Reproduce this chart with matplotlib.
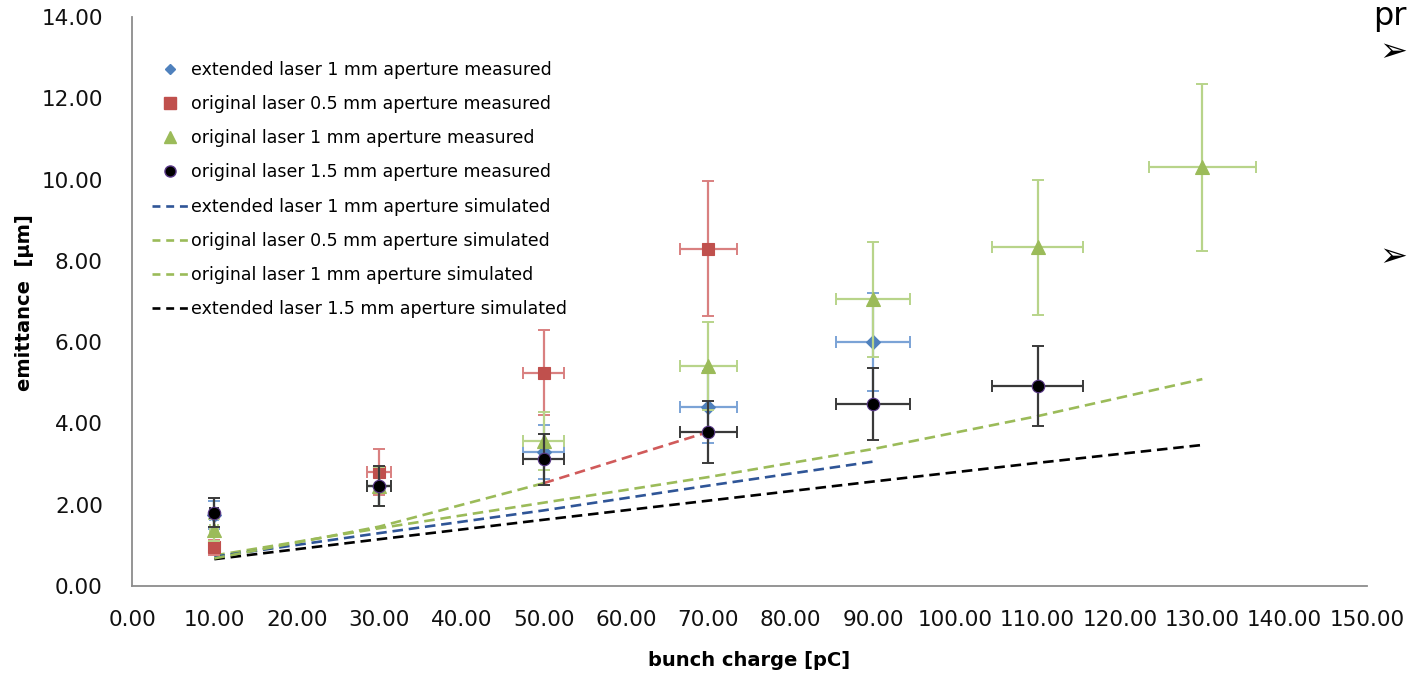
import matplotlib
matplotlib.use("Agg")
import matplotlib.pyplot as plt
from matplotlib.lines import Line2D

plt.rcParams["font.family"] = ["DejaVu Sans"]

# bunch charge [pC] and emittance [um]
charge_ext1 = [10, 30, 50, 70, 90]
emit_ext1 = [1.75, 2.45, 3.30, 4.40, 6.00]

charge_orig05 = [10, 30, 50, 70]
emit_orig05 = [0.95, 2.80, 5.25, 8.30]

charge_orig1 = [10, 30, 50, 70, 90, 110, 130]
emit_orig1 = [1.38, 2.45, 3.57, 5.42, 7.05, 8.33, 10.30]

charge_orig15 = [10, 30, 50, 70, 90, 110]
emit_orig15 = [1.80, 2.46, 3.12, 3.79, 4.48, 4.93]

# simulated curves
sim_ext1_x = [10, 30, 50, 70, 90]
sim_ext1_y = [0.72, 1.30, 1.86, 2.47, 3.06]

sim_orig05_x = [10, 30, 50, 70]
sim_orig05_y = [0.68, 1.46, 2.53, 3.79]

sim_orig1_x = [10, 30, 50, 70, 90, 110, 130]
sim_orig1_y = [0.75, 1.42, 2.05, 2.68, 3.37, 4.18, 5.09]

sim_ext15_x = [10, 30, 50, 70, 90, 110, 130]
sim_ext15_y = [0.66, 1.15, 1.63, 2.10, 2.57, 3.03, 3.47]

# relative uncertainties of the measurements
XERR_REL = 0.05
YERR_REL = 0.20

x_ticks = [0, 10, 20, 30, 40, 50, 60, 70, 80, 90, 100, 110, 120, 130, 140, 150]
y_ticks = [0, 2, 4, 6, 8, 10, 12, 14]

BLUE = "#4F81BD"
RED = "#C0504D"
GREEN = "#9BBB59"
BLACK = "#000000"

W, H = 1409, 674
fig = plt.figure(figsize=(W / 100, H / 100), dpi=100)
ax = fig.add_axes([132 / W, 88 / H, (1367 - 132) / W, (586 - 17) / H])
ax.set_xlim(0, 150)
ax.set_ylim(0, 14)

dash = (4, 2.2)
lw_sim = 1.9
# simulated curves
ax.plot(sim_ext15_x, sim_ext15_y, color=BLACK, lw=lw_sim, dashes=dash, zorder=2)
ax.plot(sim_orig1_x, sim_orig1_y, color=GREEN, lw=lw_sim, dashes=dash, zorder=2)
ax.plot(sim_ext1_x, sim_ext1_y, color="#2F5597", lw=lw_sim, dashes=dash, zorder=2)
ax.plot(sim_orig05_x[:3], sim_orig05_y[:3], color=GREEN, lw=lw_sim, dashes=dash, zorder=2)
ax.plot(sim_orig05_x[2:], sim_orig05_y[2:], color="#D05A5A", lw=lw_sim, dashes=dash, zorder=2)


def measured(xs, ys, marker, ms, face, edge, ecolor, z):
    xerr = [XERR_REL * v for v in xs]
    yerr = [YERR_REL * v for v in ys]
    ax.errorbar(xs, ys, xerr=xerr, yerr=yerr, fmt="none", ecolor=ecolor,
                elinewidth=1.6, capsize=4, capthick=1.4, zorder=z)
    ax.plot(xs, ys, linestyle="none", marker=marker, ms=ms, mfc=face,
            mec=edge, mew=0.8, zorder=z + 0.5)


measured(charge_ext1, emit_ext1, "D", 7, BLUE, BLUE, "#7BA3D6", 3)
measured(charge_orig05, emit_orig05, "s", 8.5, RED, RED, "#D98080", 4)
measured(charge_orig1, emit_orig1, "^", 9.5, GREEN, GREEN, "#B8D48A", 5)
measured(charge_orig15, emit_orig15, "o", 9, BLACK, "#5B3A8A", "#3A3A3A", 6)

for side in ("top", "right"):
    ax.spines[side].set_visible(False)
for side in ("left", "bottom"):
    ax.spines[side].set_color("#8C8C8C")
    ax.spines[side].set_linewidth(1.3)

ax.set_xticks(x_ticks)
ax.set_yticks(y_ticks)
ax.set_xticklabels([f"{v:.2f}" for v in x_ticks])
ax.set_yticklabels([f"{v:.2f}" for v in y_ticks])
ax.tick_params(axis="both", length=0, labelsize=15.5, colors="#111111")
ax.tick_params(axis="x", pad=17)
ax.tick_params(axis="y", pad=21)

fig.text(749 / W, 1 - 660 / H, "bunch charge [pC]", ha="center", va="center",
         fontsize=14, fontweight="bold")
fig.text(25 / W, 1 - 303 / H, "emittance  [µm]", ha="center", va="center",
         rotation=90, fontsize=14, fontweight="bold")

handles = [
    Line2D([], [], ls="none", marker="D", ms=5.5, mfc=BLUE, mec=BLUE),
    Line2D([], [], ls="none", marker="s", ms=8, mfc=RED, mec=RED),
    Line2D([], [], ls="none", marker="^", ms=9, mfc=GREEN, mec=GREEN),
    Line2D([], [], ls="none", marker="o", ms=8, mfc=BLACK, mec="#5B3A8A"),
    Line2D([], [], color="#2F5597", lw=1.9, dashes=(3, 2.2)),
    Line2D([], [], color=GREEN, lw=1.9, dashes=(3, 2.2)),
    Line2D([], [], color=GREEN, lw=1.9, dashes=(3, 2.2)),
    Line2D([], [], color=BLACK, lw=1.9, dashes=(3, 2.2)),
]
labels = [
    "extended laser 1 mm aperture measured",
    "original laser 0.5 mm aperture measured",
    "original laser 1 mm aperture measured",
    "original laser 1.5 mm aperture measured",
    "extended laser 1 mm aperture simulated",
    "original laser 0.5 mm aperture simulated",
    "original laser 1 mm aperture simulated",
    "extended laser 1.5 mm aperture simulated",
]
fig.legend(handles, labels, loc="upper left", bbox_to_anchor=(152 / W, 1 - 61 / H),
           frameon=False, fontsize=12.5, handlelength=2.1, handletextpad=0.15,
           labelspacing=0.93, borderpad=0, borderaxespad=0)

# slide text at the right edge
fig.text(1407 / W, 1 - 1 / H, "pr", fontsize=23, ha="right", va="top")
fig.text(1407 / W, 1 - 52 / H, "➢", fontsize=24, ha="right", va="center")
fig.text(1407 / W, 1 - 257 / H, "➢", fontsize=24, ha="right", va="center")

fig.savefig("out.png", dpi=100)
